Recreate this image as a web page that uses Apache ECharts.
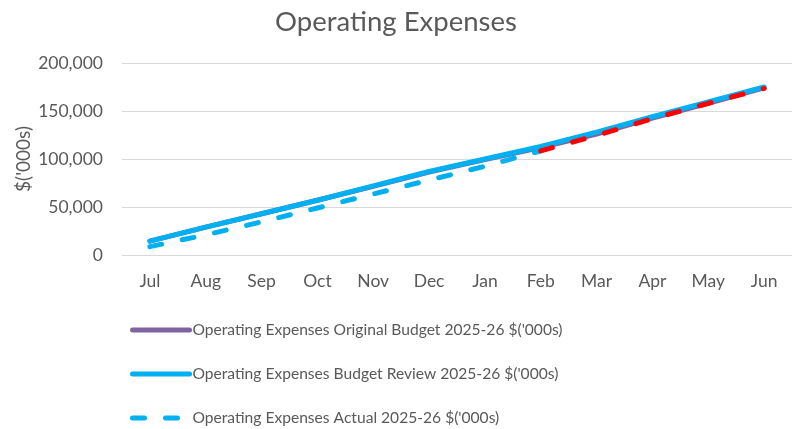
<!DOCTYPE html>
<html><head><meta charset="utf-8">
<script src="https://cdn.jsdelivr.net/npm/echarts@6/dist/echarts.min.js"></script>
<style>html,body{margin:0;padding:0;background:#fff}#c{width:792px;height:429px}</style>
</head><body><div id="c"></div>
<script>
const categories = ['Jul','Aug','Sep','Oct','Nov','Dec','Jan','Feb','Mar','Apr','May','Jun'];
const originalBudget = [14500, 29000, 43000, 57000, 71500, 86500, 99500, 112000, 126000, 142500, 158000, 174000];
const budgetReview = [14500, 29000, 43000, 57000, 72000, 87000, 100000, 113000, 128000, 144000, 159500, 175000];
const actual = [8700, 21000, 34500, 49000, 63500, 78000, 92500, 108500, null, null, null, null];
const actualForecast = [null, null, null, null, null, null, null, 108500, 124500, 142000, 158000, 173500];
const yTicks = [0, 50000, 100000, 150000, 200000];

const font = 'Lato, "Open Sans", sans-serif';
const grey = '#595959';
const chart = echarts.init(document.getElementById('c'));
chart.setOption({
  animation: false,
  title: {text: 'Operating Expenses', left: 'center', top: 3,
    textStyle: {fontFamily: font, fontSize: 27.5, fontWeight: 'normal', color: grey}},
  grid: {left: 122, right: -1, top: 63, bottom: 174},
  legend: {orient: 'vertical', left: 130, top: 322, padding: 0, itemGap: 28, itemWidth: 57, itemHeight: 10,
    itemStyle: {opacity: 0},
    lineStyle: {width: 5, cap: 'round'},
    textStyle: {fontFamily: font, fontSize: 15.6, color: grey, padding: [0,0,0,-2]},
    data: ['Operating Expenses Original Budget 2025-26 $(\'000s)', 'Operating Expenses Budget Review 2025-26 $(\'000s)', 'Operating Expenses Actual 2025-26 $(\'000s)']},
  xAxis: {type: 'category', data: categories, boundaryGap: true,
    axisLine: {show: false}, axisTick: {show: false},
    axisLabel: {fontFamily: font, fontSize: 17.5, color: grey, margin: 17}},
  yAxis: {type: 'value', min: 0, max: 200000, interval: 50000,
    name: "$('000s)", nameLocation: 'middle', nameGap: 89, nameRotate: 90, nameMoveOverlap: false,
    nameTextStyle: {fontFamily: font, fontSize: 19, color: grey},
    axisLabel: {fontFamily: font, fontSize: 17.5, color: grey, margin: 19,
      formatter: v => yTicks.includes(v) ? v.toLocaleString('en-US') : ''},
    splitLine: {lineStyle: {color: '#d9d9d9', width: 1}}},
  series: [
    {name: 'Operating Expenses Original Budget 2025-26 $(\'000s)', type: 'line', data: originalBudget,
      symbol: 'none', color: '#8064a2', lineStyle: {width: 5, cap: 'round', join: 'round'}},
    {name: 'Operating Expenses Budget Review 2025-26 $(\'000s)', type: 'line', data: budgetReview,
      symbol: 'none', color: '#00b0f0', lineStyle: {width: 5, cap: 'round', join: 'round'}},
    {name: 'Operating Expenses Actual 2025-26 $(\'000s)', type: 'line', data: actual,
      symbol: 'none', color: '#00b0f0', lineStyle: {width: 5, type: [12, 21], cap: 'round'}},
    {name: 'forecast', type: 'line', data: actualForecast,
      symbol: 'none', color: '#ff0000', lineStyle: {width: 5, type: [12, 21], cap: 'round'}}
  ]
});
</script></body></html>
